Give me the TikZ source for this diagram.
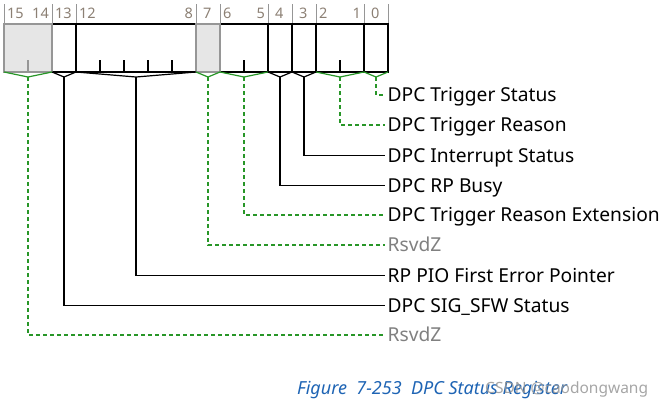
\documentclass[tikz,border=0pt]{standalone}
\usepackage{fontspec}
\setmainfont{Noto Sans}
\usetikzlibrary{calc}
\definecolor{fgreen}{RGB}{40,150,40}
\definecolor{hdrgray}{RGB}{140,128,116}
\definecolor{rsvgray}{RGB}{128,128,128}
\definecolor{boxgray}{RGB}{150,150,150}
\definecolor{rsvfill}{RGB}{230,230,230}
\definecolor{capblue}{RGB}{30,100,180}
\definecolor{wmgray}{RGB}{150,150,150}
\tikzset{
  fieldbox/.style={draw=black, line width=1.6pt, fill=white, inner sep=0pt, outer sep=0pt,
     minimum height=48pt, anchor=north west},
  rsvbox/.style={fieldbox, draw=boxgray, fill=rsvfill},
  hdrline/.style={draw=boxgray, line width=1pt},
  hdrnum/.style={font=\fontsize{14.5}{14.5}\selectfont, text=hdrgray, inner sep=0pt},
  tick/.style={line width=1.3pt},
  rtick/.style={line width=1.3pt, draw=boxgray},
  blkbr/.style={line width=1.2pt, draw=black},
  grnbr/.style={line width=1.2pt, draw=fgreen},
  blklead/.style={line width=1.2pt, draw=black},
  grnlead/.style={line width=1.3pt, draw=fgreen, dash pattern=on 4pt off 3pt},
  fname/.style={font=\fontsize{19.2}{19.2}\selectfont, anchor=west, text height=13.7pt, text depth=0pt,
     inner xsep=2.5pt, inner ysep=0pt},
  rname/.style={fname, text=rsvgray},
}
\begin{document}
\begin{tikzpicture}[x=1pt,y=-1pt]
\useasboundingbox (0,0) rectangle (663,405);
% header lines
\foreach \bx in {4,52,76,196,220,268,292,316,364,388}
  \draw[hdrline] (\bx,4) -- (\bx,24);
% fields (non-reserved first)
\node[fieldbox, minimum width=24pt] (f13) at (52,24) {};
\node[fieldbox, minimum width=120pt] (f12) at (76,24) {};
\node[fieldbox, minimum width=48pt] (f6) at (220,24) {};
\node[fieldbox, minimum width=24pt] (f4) at (268,24) {};
\node[fieldbox, minimum width=24pt] (f3) at (292,24) {};
\node[fieldbox, minimum width=48pt] (f2) at (316,24) {};
\node[fieldbox, minimum width=24pt] (f0) at (364,24) {};
\node[rsvbox, minimum width=48pt] (f15) at (4,24) {};
\node[rsvbox, minimum width=24pt] (f7) at (196,24) {};
% header numbers
\node[hdrnum, anchor=base west] (h15) at (7,18.5) {15};
\node[hdrnum, anchor=base east] (h14) at (49,18.5) {14};
\node[hdrnum, anchor=base west] (h13) at (55,18.5) {13};
\node[hdrnum, anchor=base west] (h12) at (79,18.5) {12};
\node[hdrnum, anchor=base east] (h8) at (193,18.5) {8};
\node[hdrnum, anchor=base west] (h7) at (203,18.5) {7};
\node[hdrnum, anchor=base west] (h6) at (223,18.5) {6};
\node[hdrnum, anchor=base east] (h5) at (265,18.5) {5};
\node[hdrnum, anchor=base west] (h4) at (275,18.5) {4};
\node[hdrnum, anchor=base west] (h3) at (299,18.5) {3};
\node[hdrnum, anchor=base west] (h2) at (319,18.5) {2};
\node[hdrnum, anchor=base east] (h1) at (361,18.5) {1};
\node[hdrnum, anchor=base west] (h0) at (371,18.5) {0};
% internal ticks
\draw[rtick] ($(f15.south west)+(24,0)$) -- ++(0,-12);
\foreach \k in {24,48,72,96}
  \draw[tick] ($(f12.south west)+(\k,0)$) -- ++(0,-12);
\draw[tick] ($(f6.south west)+(24,0)$) -- ++(0,-12);
\draw[tick] ($(f2.south west)+(24,0)$) -- ++(0,-12);
% bracket apexes
\foreach \f in {15,13,12,7,6,4,3,2,0}
  \coordinate (a\f) at ($(f\f.south)+(0,5)$);
% labels
\node[fname] (l0) at (385,95) {DPC Trigger Status};
\node[fname] (l2) at (385,125) {DPC Trigger Reason};
\node[fname] (l3) at (385,155.5) {DPC Interrupt Status};
\node[fname] (l4) at (385,185.5) {DPC RP Busy};
\node[fname] (l6) at (385,215) {DPC Trigger Reason Extension};
\node[rname] (l7) at (385,245) {RsvdZ};
\node[fname] (l12) at (385,275.5) {RP PIO First Error Pointer};
\node[fname] (l13) at (385,305.5) {DPC SIG\_SFW Status};
\node[rname] (l15) at (385,335) {RsvdZ};
% brackets and leaders
\foreach \f in {15,7,6,2,0}{
  \draw[grnbr] (f\f.south west) -- (a\f) -- (f\f.south east);
  \draw[grnlead] (a\f) |- (l\f.west);
}
\foreach \f in {13,12,4,3}{
  \draw[blkbr] (f\f.south west) -- (a\f) -- (f\f.south east);
  \draw[blklead] (a\f) |- (l\f.west);
}
% caption
\node[font=\fontsize{18}{18}\selectfont\itshape, text=capblue, anchor=base west, inner sep=0pt] (cap) at (297,394.5)
  {Figure\ \ 7-253\ \ DPC Status Register};
\node[font=\fontsize{15.5}{15.5}\selectfont, text=wmgray, anchor=base west, inner sep=0pt, opacity=0.85] (wm) at (485,393)
  {CSDN @caodongwang};
\end{tikzpicture}
\end{document}
